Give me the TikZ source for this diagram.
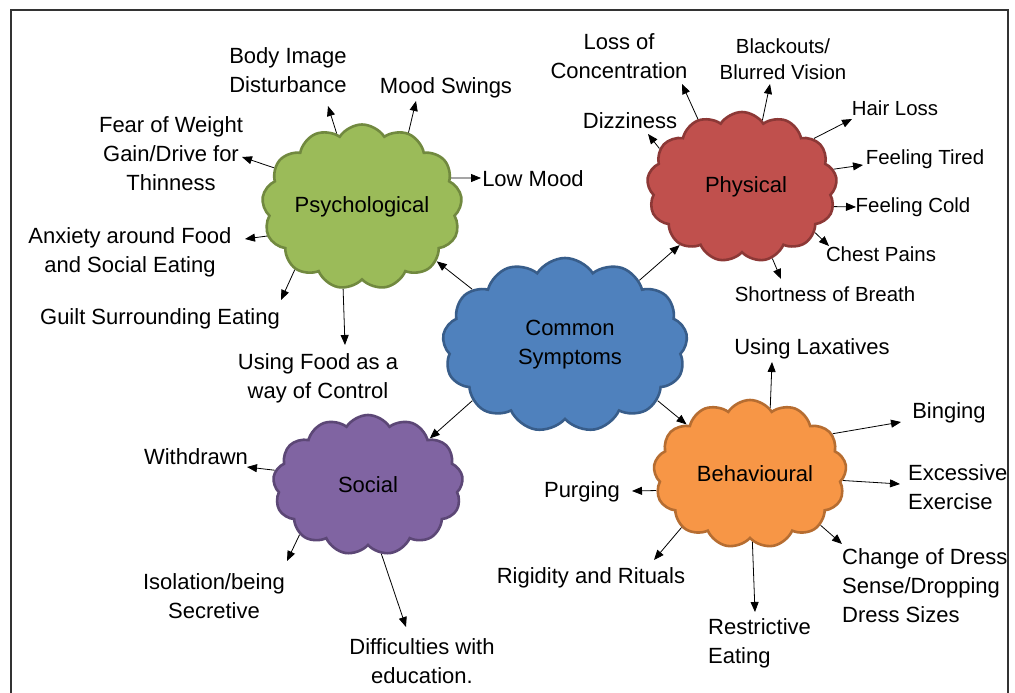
\documentclass[tikz,border=0pt]{standalone}
\usepackage{fontspec}
\setmainfont{Liberation Sans}
\usetikzlibrary{shapes.symbols, arrows.meta}
\definecolor{psyfill}{HTML}{9BBB59}
\definecolor{psyline}{HTML}{71893F}
\definecolor{phyfill}{HTML}{C0504D}
\definecolor{phyline}{HTML}{8C3836}
\definecolor{comfill}{HTML}{4F81BD}
\definecolor{comline}{HTML}{385D8A}
\definecolor{socfill}{HTML}{8064A2}
\definecolor{socline}{HTML}{5C4776}
\definecolor{behfill}{HTML}{F79646}
\definecolor{behline}{HTML}{B66D31}
\tikzset{>={Triangle[length=10pt,width=8pt]}}
\tikzset{blob/.style={cloud, cloud puffs=13, cloud puff arc=115, cloud ignores aspect, draw, line width=2.6pt, align=center}}
\tikzset{lbl/.style={align=center, inner sep=0pt}}
\tikzset{lblsmall/.style={lbl, font=\fontsize{20.4}{26.5}\selectfont}}

\begin{document}
\begin{tikzpicture}[x=1pt, y=-1pt, font=\fontsize{22}{29}\selectfont]
\useasboundingbox (0,0) rectangle (1015,693);
\fill[white] (0,0) rectangle (1015,693);
\draw[line width=1.2pt, black!80] (11,10) rectangle (1008,705);

\node[blob, fill=psyfill, draw=psyline, minimum width=200pt, minimum height=165pt] (psy) at (362,207) {Psychological};
\node[blob, fill=phyfill, draw=phyline, minimum width=190pt, minimum height=150pt] (phy) at (742,187) {\hspace*{8pt}Physical};
\node[blob, fill=comfill, draw=comline, minimum width=245pt, minimum height=174pt] (com) at (565,345) {\hspace*{10pt}Common\\\hspace*{10pt}Symptoms};
\node[blob, fill=socfill, draw=socline, minimum width=190pt, minimum height=140pt] (soc) at (368,485) {Social};
\node[blob, fill=behfill, draw=behline, minimum width=193pt, minimum height=148pt] (beh) at (750,474) {\hspace*{10pt}Behavioural};

\node[lbl] (body) at (288,70) {Body Image\\Disturbance};
\node[lbl] (mood) at (446,88) {Mood Swings};
\node[lbl] (fear) at (171,154) {Fear of Weight\\Gain/Drive for\\Thinness};
\node[lbl] (low) at (533,179) {Low Mood};
\node[lbl] (anx) at (130,252) {Anxiety around Food\\and Social Eating};
\node[lbl] (guilt) at (160,319) {Guilt Surrounding Eating};
\node[lbl] (food) at (318,378) {Using Food as a\\way of Control};

\node[lbl] (conc) at (619,56) {Loss of\\Concentration};
\node[lblsmall] (black) at (783,59) {Blackouts/\\Blurred Vision};
\node[lbl] (dizz) at (630,121) {Dizziness};
\node[lblsmall] (hair) at (895,108) {Hair Loss};
\node[lblsmall] (tired) at (925,159) {Feeling Tired};
\node[lblsmall] (cold) at (913,207) {Feeling Cold};
\node[lblsmall] (chest) at (881,254) {Chest Pains};
\node[lblsmall] (breath) at (825,294) {Shortness of Breath};

\node[lbl] (lax) at (812,349) {Using Laxatives};
\node[lbl] (bing) at (949,413) {Binging};
\node[lbl, align=left, anchor=west] (exer) at (908,487) {Excessive\\Exercise};
\node[lbl] (purg) at (582,492) {Purging};
\node[lbl] (rig) at (591,578) {Rigidity and Rituals};
\node[lbl, align=left, anchor=west] (restr) at (708,643) {Restrictive\\Eating};
\node[lbl, align=left, anchor=west] (dress) at (842,586) {Change of Dress\\Sense/Dropping\\Dress Sizes};

\node[lbl] (withd) at (196,457) {Withdrawn};
\node[lbl] (isol) at (214,596) {Isolation/being\\Secretive};
\node[lbl] (diff) at (422,661) {Difficulties with\\education.};

\coordinate (t-body) at (328,106);
\coordinate (t-mood) at (416,101);
\coordinate (t-fear) at (242,157);
\coordinate (t-low) at (481,178);
\coordinate (t-anx) at (245,239);
\coordinate (t-guilt) at (281,300);
\coordinate (t-food) at (345,345);
\coordinate (t-conc) at (682,84);
\coordinate (t-black) at (770,84);
\coordinate (t-dizz) at (648,134);
\coordinate (t-hair) at (852,119);
\coordinate (t-tired) at (863,165);
\coordinate (t-cold) at (856,207);
\coordinate (t-chest) at (829,246);
\coordinate (t-breath) at (781,279);
\coordinate (t-lax) at (772,362);
\coordinate (t-bing) at (901,422);
\coordinate (t-exer) at (900,484);
\coordinate (t-purg) at (632,491);
\coordinate (t-rig) at (654,560);
\coordinate (t-restr) at (755,612);
\coordinate (t-dress) at (842,544);
\coordinate (t-withd) at (247,467);
\coordinate (t-isol) at (287,561);
\coordinate (t-diff) at (406,627);

\foreach \n/\c/\a in {body/psy/109, mood/psy/58, fear/psy/156, low/psy/18, anx/psy/197, guilt/psy/223, food/psy/257,
  conc/phy/123, black/phy/73, dizz/phy/155, hair/phy/34, tired/phy/11, cold/phy/-12, chest/phy/-32, breath/phy/-67,
  lax/beh/73, bing/beh/26, exer/beh/-4, purg/beh/190, rig/beh/218, restr/beh/-88, dress/beh/-36,
  withd/soc/171, isol/soc/216, diff/soc/-79}
\draw[->, line width=0.8pt] (\c.\a) -- (t-\n);
\foreach \c/\a/\b in {psy/149/-36, phy/41/223, soc/211/37, beh/-31/142}
\draw[->, line width=0.8pt] (com.\a) -- (\c.\b);
\end{tikzpicture}
\end{document}
